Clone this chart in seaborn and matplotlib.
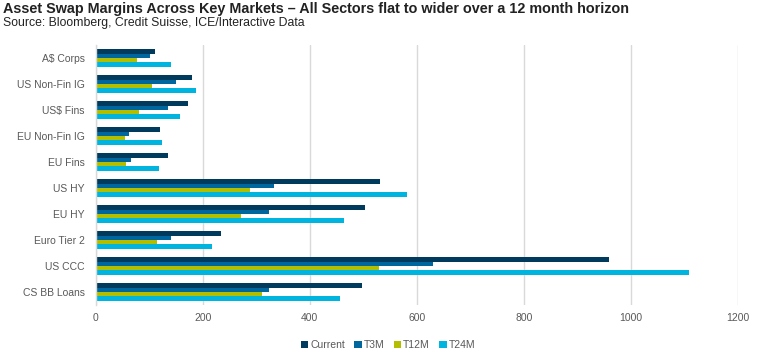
import pandas as pd
import matplotlib.pyplot as plt
import seaborn as sns

# Asset swap margins (bp)
markets = ['A$ Corps', 'US Non-Fin IG', 'US$ Fins', 'EU Non-Fin IG', 'EU Fins',
           'US HY', 'EU HY', 'Euro Tier 2', 'US CCC', 'CS BB Loans']
current = [111, 180, 172, 120, 135, 531, 503, 234, 959, 498]
t3m = [101, 150, 135, 62, 66, 333, 324, 141, 631, 324]
t12m = [78, 105, 80, 55, 57, 288, 272, 115, 530, 311]
t24m = [141, 188, 158, 124, 118, 582, 464, 217, 1109, 456]
series = ['Current', 'T3M', 'T12M', 'T24M']
colors = ['#003A5C', '#00679E', '#B4BE00', '#00B4E0']

df = pd.DataFrame({'Market': markets, 'Current': current, 'T3M': t3m,
                   'T12M': t12m, 'T24M': t24m})
long_df = df.melt(id_vars='Market', value_vars=series,
                  var_name='Series', value_name='Spread')

sns.set_style('white')
plt.rcParams['font.family'] = ['Liberation Sans', 'DejaVu Sans']

fig = plt.figure(figsize=(7.84, 3.54), dpi=100)
ax = fig.add_axes([95.7 / 784, 1 - 305 / 354, (737.7 - 95.7) / 784, 260 / 354])

sns.barplot(data=long_df, y='Market', x='Spread', hue='Series', order=markets,
            hue_order=series, palette=colors, orient='h', width=0.667,
            saturation=1, edgecolor='none', linewidth=0, ax=ax)

ax.set_xlim(0, 1200)
ax.set_xticks(range(0, 1201, 200))
ax.set_ylim(len(markets) - 0.5, -0.5)
ax.xaxis.grid(True, color='#d9d9d9', linewidth=1)
ax.set_axisbelow(True)
for side in ['top', 'right', 'bottom']:
    ax.spines[side].set_visible(False)
ax.spines['left'].set_color('#d9d9d9')
ax.spines['left'].set_linewidth(1)
ax.tick_params(axis='both', length=0, labelsize=7.5, labelcolor='#595959')
ax.tick_params(axis='x', pad=6)
ax.tick_params(axis='y', pad=8)
ax.set_xlabel('')
ax.set_ylabel('')

handles, labels = ax.get_legend_handles_labels()
ax.legend(handles, labels, loc='center', bbox_to_anchor=(388 / 784, 1 - 345 / 354),
          bbox_transform=fig.transFigure, ncol=4, frameon=False, fontsize=7.5,
          labelcolor='#595959', handlelength=0.7, handleheight=0.7,
          handletextpad=0.2, columnspacing=0.9)

fig.text(0.004, 1 - 9 / 354, 'Asset Swap Margins Across Key Markets \u2013 All Sectors flat to wider over a 12 month horizon',
         fontsize=10.4, fontweight='bold', color='#222222', va='center', ha='left')
fig.text(0.004, 1 - 23 / 354, 'Source: Bloomberg, Credit Suisse, ICE/Interactive Data',
         fontsize=8.8, color='#222222', va='center', ha='left')

fig.savefig('out.png', dpi=100)
